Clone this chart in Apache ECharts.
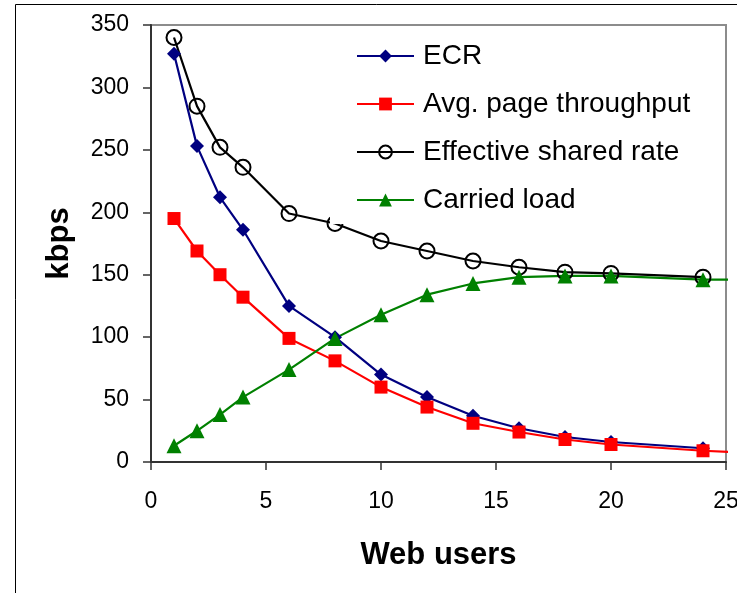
<!DOCTYPE html>
<html>
<head>
<meta charset="utf-8">
<script src="https://cdn.jsdelivr.net/npm/echarts@6/dist/echarts.min.js"></script>
<style>
html,body{margin:0;padding:0;background:#fff;}
#chart{width:737px;height:593px;}
</style>
</head>
<body>
<div id="chart"></div>
<script>
// Data
const users          = [1, 2, 3, 4, 6, 8, 10, 12, 14, 16, 18, 20, 24, 30];
const ecr            = [327, 253, 212, 186, 125, 100, 70, 52, 37, 27, 20, 16, 11, null];
const avgThroughput  = [195, 169, 150, 132, 99, 81, 60, 44, 31, 24, 18, 14, 9, 4];
const effectiveRate  = [340, 285, 252, 236, 199, 191, 177, 169, 161, 156, 152, 151, 148, null];
const carriedLoad    = [13, 25, 38, 52, 74, 99, 118, 134, 143, 148, 149, 149, 146, 146];
const seriesNames    = ['ECR', 'Avg. page throughput', 'Effective shared rate', 'Carried load'];
const xAxisTitle = 'Web users';
const yAxisTitle = 'kbps';

function pairs(ys){ return users.map((x,i)=>[x, ys[i]]); }

const FONT = 'Liberation Sans, Arial, sans-serif';
const chart = echarts.init(document.getElementById('chart'), null, {renderer:'canvas'});

chart.setOption({
  animation:false,
  backgroundColor:'#fff',
  textStyle:{fontFamily:FONT},
  graphic:[{
    type:'rect', silent:true, z:-10,
    shape:{x:15.5, y:4.5, width:900, height:800},
    style:{fill:'none', stroke:'#000', lineWidth:1}
  }],
  grid:{left:151, right:11, top:25, bottom:131, show:true, borderColor:'#8c8c8c', borderWidth:2,
        backgroundColor:'transparent', outerBoundsMode:'none', containLabel:false},
  legend:{
    orient:'vertical', left:330, top:32, padding:[10,10,10,26],
    backgroundColor:'#fff',
    itemWidth:57, itemHeight:16, itemGap:20,
    textStyle:{fontFamily:FONT, fontSize:28, lineHeight:28, color:'#000', padding:[0,0,0,4]},
    data:seriesNames
  },
  xAxis:{
    type:'value', min:0, max:25, interval:5,
    name:xAxisTitle, nameLocation:'middle', nameGap:78,
    nameTextStyle:{fontFamily:FONT, fontSize:31, fontWeight:'bold', color:'#000'},
    axisLine:{show:true, onZero:false, lineStyle:{color:'#333', width:2}},
    axisTick:{show:true, length:8, lineStyle:{color:'#333', width:1.5}},
    axisLabel:{fontFamily:FONT, fontSize:23, color:'#000', margin:28},
    splitLine:{show:false}
  },
  yAxis:{
    type:'value', min:0, max:350, interval:50,
    name:yAxisTitle, nameLocation:'middle', nameGap:76,
    nameTextStyle:{fontFamily:FONT, fontSize:31, fontWeight:'bold', color:'#000'},
    axisLine:{show:true, lineStyle:{color:'#333', width:2}},
    axisTick:{show:true, length:8, lineStyle:{color:'#333', width:1.5}},
    axisLabel:{fontFamily:FONT, fontSize:23, color:'#000', margin:22},
    splitLine:{show:false}
  },
  series:[
    {name:seriesNames[0], type:'line', data:pairs(ecr), symbol:'diamond', symbolSize:14,
     lineStyle:{color:'#000080', width:2.2}, itemStyle:{color:'#000080'}, clip:false},
    {name:seriesNames[1], type:'line', data:pairs(avgThroughput), symbol:'rect', symbolSize:13,
     lineStyle:{color:'#ff0000', width:2.2}, itemStyle:{color:'#ff0000'}, clip:false},
    {name:seriesNames[2], type:'line', data:pairs(effectiveRate), symbol:'circle', symbolSize:15,
     lineStyle:{color:'#000', width:2.2}, itemStyle:{color:'rgba(255,255,255,0)', borderColor:'#000', borderWidth:2}, clip:false},
    {name:seriesNames[3], type:'line', data:pairs(carriedLoad), symbol:'triangle', symbolSize:15,
     lineStyle:{color:'#008000', width:2.2}, itemStyle:{color:'#008000'}, clip:false}
  ]
});
</script>
</body>
</html>
